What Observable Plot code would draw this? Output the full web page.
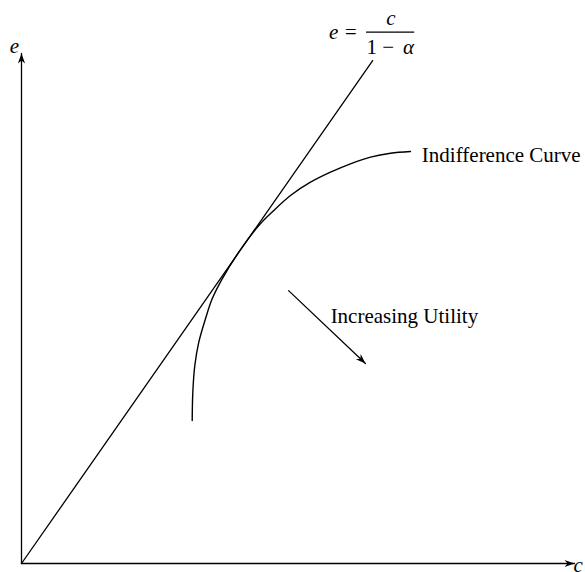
<!DOCTYPE html>
<html>
<head>
<meta charset="utf-8">
<script src="https://cdn.jsdelivr.net/npm/d3@7"></script>
<script src="https://cdn.jsdelivr.net/npm/@observablehq/plot@0.6"></script>
<style>
  html, body { margin: 0; padding: 0; background: #fff; }
  svg { display: block; }
</style>
</head>
<body>
<script>
// ---- data (abstract units, 0–100 on each axis) ----
const axisX = [0, 100];                 // horizontal axis extent
const axisY = [0, 100];                 // vertical axis extent
const rayX = [0, 63.5];                 // e = c/(1-α) line
const rayY = [0, 98.6];
const curveX = [30.87, 30.98, 31.34, 32.06, 33.27, 34.48, 36.29, 39.29, 42.91, 45.62, 48.64, 52.26, 55.88, 59.49, 63.11, 66.73, 70.34];
const curveY = [28.04, 33.59, 38.82, 43.39, 47.98, 51.90, 55.82, 61.04, 66.27, 69.22, 72.16, 74.76, 76.73, 78.37, 79.67, 80.45, 80.78];
const utilX = [48.3, 62.2];             // "increasing utility" arrow
const utilY = [53.5, 39.2];

const labelIndiff = {x: 72.4, y: 80.0, text: "Indifference Curve"};
const labelUtil = {x: 55.9, y: 48.5, text: "Increasing Utility"};
const labelE = {x: -1.3, y: 101.4, text: "e"};
const labelC = {x: 101.5, y: -0.3, text: "c"};
const fracLeft = {x: 60.8, y: 104.1, text: "e ="};
const fracNum = {x: 66.8, y: 106.9, text: "c"};
const fracDen1 = {x: 62.4, y: 101.2, text: "1 −"};
const fracDen2 = {x: 70.0, y: 101.2, text: "α"};
const fracBar = {x1: 62.4, x2: 71.1, y: 104.2};

// ---- layout ----
const W = 585, H = 572;
const mL = 21, mR = 11, mT = 53, mB = 9;
const kx = (W - mL - mR) / 100, ky = (H - mT - mB) / 100;

const zip = (xs, ys) => xs.map((x, i) => ({x, y: ys[i]}));

function head(angleDeg) {
  const a = angleDeg * Math.PI / 180, c = Math.cos(a), s = Math.sin(a);
  const pts = [[0, 0], [-10, -3.6], [-7, 0], [-10, 3.6]].map(([x, y]) => [x * c - y * s, x * s + y * c]);
  return {
    draw(ctx) {
      ctx.moveTo(pts[0][0], pts[0][1]);
      for (let i = 1; i < pts.length; ++i) ctx.lineTo(pts[i][0], pts[i][1]);
      ctx.closePath();
    }
  };
}
const utilAngle = Math.atan2(-(utilY[1] - utilY[0]) * ky, (utilX[1] - utilX[0]) * kx) * 180 / Math.PI;

const font = "Liberation Serif, Times New Roman, serif";
const fs = 21;
const T = (d, opts = {}) => Plot.text([d], {x: "x", y: "y", text: "text", fontFamily: font, fontSize: fs, fill: "black", ...opts});

const chart = Plot.plot({
  width: W, height: H,
  marginLeft: mL, marginRight: mR, marginTop: mT, marginBottom: mB,
  x: {domain: [0, 100], axis: null},
  y: {domain: [0, 100], axis: null},
  style: {background: "white", overflow: "visible"},
  marks: [
    Plot.line(zip(axisX, [0, 0]), {x: "x", y: "y", stroke: "black", strokeWidth: 1.3}),
    Plot.line(zip([0, 0], axisY), {x: "x", y: "y", stroke: "black", strokeWidth: 1.3}),
    Plot.line(zip(rayX, rayY), {x: "x", y: "y", stroke: "black", strokeWidth: 1.3}),
    Plot.line(zip(curveX, curveY), {x: "x", y: "y", stroke: "black", strokeWidth: 1.4, curve: "catmull-rom"}),
    Plot.line(zip(utilX, utilY), {x: "x", y: "y", stroke: "black", strokeWidth: 1.3}),
    Plot.dot([{x: axisX[1], y: 0}], {x: "x", y: "y", symbol: head(0), fill: "black", stroke: "none"}),
    Plot.dot([{x: 0, y: axisY[1]}], {x: "x", y: "y", symbol: head(-90), fill: "black", stroke: "none"}),
    Plot.dot([{x: utilX[1], y: utilY[1]}], {x: "x", y: "y", symbol: head(utilAngle), fill: "black", stroke: "none"}),
    T(labelIndiff, {textAnchor: "start"}),
    T(labelUtil, {textAnchor: "start"}),
    T(labelE, {fontStyle: "italic"}),
    T(labelC, {fontStyle: "italic", textAnchor: "end"}),
    T(fracLeft, {fontStyle: "italic", textAnchor: "end"}),
    T(fracNum, {fontStyle: "italic"}),
    T(fracDen1, {textAnchor: "start"}),
    T(fracDen2, {fontStyle: "italic"}),
    Plot.ruleY([fracBar], {x1: "x1", x2: "x2", y: "y", stroke: "black", strokeWidth: 1.2})
  ]
});
document.body.appendChild(chart);
</script>
</body>
</html>
